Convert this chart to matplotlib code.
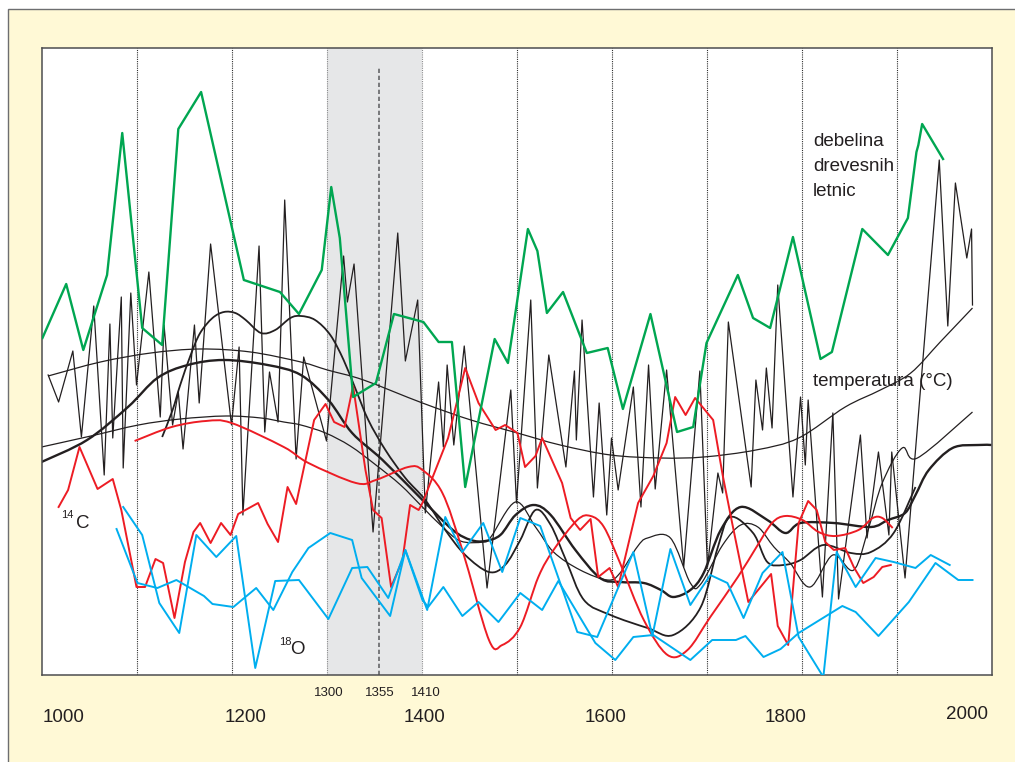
import numpy as np
import matplotlib
matplotlib.use("Agg")
import matplotlib.pyplot as plt
from matplotlib.path import Path
from matplotlib.patches import PathPatch, Rectangle

plt.rcParams['font.family'] = ['Liberation Sans', 'DejaVu Sans']

# ---------------------------------------------------------------- data
# tree-ring width (green)
ring_years = [1001, 1026, 1044, 1069, 1085, 1106, 1127, 1144, 1168, 1213, 1251, 1271,
              1295, 1305, 1314, 1328, 1352, 1371, 1402, 1418, 1432, 1446, 1477, 1491,
              1512, 1522, 1532, 1549, 1574, 1596, 1612, 1641, 1669, 1686, 1700, 1733,
              1749, 1767, 1791, 1820, 1832, 1864, 1891, 1912, 1921, 1923, 1927, 1949]
ring_vals = [337, 391, 325, 400, 542, 347, 330, 546, 583, 395, 383, 361,
             405, 488, 437, 278, 292, 361, 353, 333, 333, 188, 336, 312,
             446, 424, 362, 383, 322, 327, 266, 361, 243, 248, 332, 400,
             357, 347, 438, 316, 323, 446, 420, 457, 523, 530, 551, 516]

# temperature (thin black zig-zag)
temp_years = [1007, 1018, 1033, 1042, 1055, 1066, 1072, 1075, 1084, 1086, 1094, 1100,
              1113, 1125, 1129, 1138, 1144, 1149, 1161, 1166, 1178, 1200, 1208, 1212,
              1229, 1235, 1240, 1249, 1256, 1268, 1276, 1300, 1318, 1322, 1329, 1349,
              1375, 1383, 1396, 1404, 1418, 1423, 1427, 1434, 1445, 1469, 1494, 1500,
              1515, 1522, 1534, 1552, 1561, 1563, 1569, 1581, 1587, 1595, 1600, 1607,
              1623, 1631, 1639, 1646, 1658, 1676, 1693, 1701, 1712, 1717, 1723, 1747,
              1752, 1759, 1763, 1769, 1775, 1791, 1799, 1804, 1807, 1822, 1833, 1839,
              1862, 1869, 1881, 1892, 1895, 1909, 1945, 1954, 1962, 1974, 1979, 1980]
temp_vals = [300, 273, 324, 238, 369, 200, 351, 237, 378, 207, 382, 290,
             403, 258, 350, 250, 283, 226, 350, 272, 431, 250, 328, 160,
             429, 243, 303, 253, 475, 216, 318, 234, 419, 373, 411, 143,
             442, 314, 375, 162, 293, 228, 310, 230, 329, 87, 285, 172,
             375, 187, 320, 208, 304, 235, 355, 178, 272, 160, 237, 185,
             288, 168, 310, 186, 305, 108, 304, 108, 202, 182, 353, 188,
             295, 245, 307, 247, 390, 178, 278, 210, 275, 78, 262, 76,
             240, 137, 223, 140, 223, 97, 515, 349, 492, 417, 446, 370]

# long-term temperature trend (thin black arc)
trend_years = [1007, 1062, 1115, 1167, 1220, 1273, 1301, 1339, 1401, 1452, 1501,
               1546, 1599, 1652, 1697, 1752, 1797, 1846, 1883, 1915, 1946, 1980]
trend_vals = [299, 313, 322, 326, 323, 313, 305, 295, 272, 255, 242,
              230, 220, 217, 218, 225, 237, 268, 285, 302, 333, 367]

# smoothed curves (black)
smooth_a_years = [1000, 1048, 1091, 1122, 1154, 1192, 1238, 1273, 1302, 1327, 1359,
                  1401, 1433, 1452, 1467, 1483, 1499, 1518, 1536, 1562, 1588, 1609,
                  1634, 1652, 1665, 1683, 1697, 1715, 1736, 1764, 1783, 1799, 1834,
                  1873, 1891, 1909, 1920, 1934, 1959, 1986, 2000]
smooth_a_vals = [213, 235, 268, 297, 310, 315, 310, 300, 275, 242, 215,
                 175, 145, 135, 134, 140, 160, 170, 160, 125, 97, 93,
                 92, 85, 78, 85, 102, 145, 168, 155, 142, 152, 152,
                 148, 155, 162, 180, 205, 227, 230, 230]

smooth_b_years = [1127, 1138, 1146, 1157, 1167, 1180, 1192, 1204, 1215, 1231, 1246,
                  1262, 1273, 1288, 1304, 1318, 1331, 1344, 1362, 1383, 1404, 1425,
                  1446, 1471, 1488, 1504, 1520, 1536, 1552, 1571, 1599, 1638, 1665,
                  1694, 1712, 1725, 1749, 1764, 1781, 1799, 1823, 1852, 1873, 1897, 1920]
smooth_b_vals = [238, 265, 290, 320, 342, 357, 363, 362, 355, 342, 345,
                 357, 359, 355, 340, 315, 285, 255, 225, 197, 175, 145,
                 120, 103, 110, 135, 165, 150, 115, 75, 60, 47, 40,
                 68, 128, 158, 142, 113, 110, 115, 130, 122, 123, 142, 188]

smooth_c_years = [1000, 1052, 1102, 1146, 1194, 1231, 1255, 1273, 1299, 1325, 1352,
                  1378, 1401, 1420, 1441, 1465, 1473, 1499, 1520, 1539, 1567, 1596,
                  1609, 1627, 1638, 1662, 1683, 1694, 1717, 1736, 1754, 1771, 1788,
                  1809, 1833, 1855, 1871, 1885, 1906, 1922, 1980]
smooth_c_vals = [228, 239, 250, 256, 259, 257, 253, 250, 242, 229, 210,
                 190, 168, 150, 134, 133, 138, 173, 148, 123, 105, 95,
                 102, 128, 137, 137, 92, 91, 130, 150, 148, 128, 112,
                 88, 120, 105, 148, 192, 227, 217, 263]

# radiocarbon 14C (red)
c14_years = [1018, 1028, 1040, 1059, 1075, 1084, 1100, 1109, 1120, 1128, 1140, 1151,
             1160, 1167, 1178, 1189, 1199, 1207, 1228, 1238, 1249, 1259, 1268, 1287,
             1299, 1308, 1319, 1328, 1341, 1349, 1358, 1368, 1380, 1388, 1397, 1401,
             1428, 1446, 1460, 1478, 1488, 1501, 1509, 1520, 1527, 1548, 1557, 1567,
             1578, 1586, 1598, 1607, 1628, 1644, 1658, 1667, 1678, 1688, 1707, 1717,
             1727, 1744, 1768, 1775, 1786, 1797, 1807, 1816, 1825, 1834, 1846, 1855,
             1865, 1876, 1885, 1894]
c14_vals = [168, 185, 228, 186, 196, 165, 88, 88, 116, 112, 57, 113,
            143, 152, 132, 152, 140, 161, 172, 151, 133, 188, 171, 255,
            271, 253, 248, 289, 205, 165, 157, 88, 115, 170, 165, 172,
            237, 307, 272, 245, 250, 242, 208, 219, 237, 192, 157, 145,
            156, 98, 107, 88, 172, 199, 232, 278, 260, 277, 255, 200,
            152, 73, 101, 49, 30, 152, 174, 165, 133, 125, 127, 108,
            92, 98, 108, 110]

c14_smooth_years = [1098, 1137, 1173, 1200, 1255, 1281, 1331, 1352, 1386, 1401, 1422,
                    1443, 1471, 1485, 1504, 1523, 1539, 1564, 1578, 1592, 1609, 1634,
                    1659, 1680, 1704, 1733, 1752, 1769, 1783, 1801, 1818, 1836, 1860,
                    1875, 1885, 1896]
c14_smooth_vals = [234, 248, 254, 252, 228, 212, 192, 195, 208, 205, 182,
                   125, 35, 30, 48, 98, 125, 155, 159, 148, 112, 55,
                   20, 25, 58, 98, 127, 152, 159, 155, 143, 139, 145,
                   157, 157, 147]

# oxygen isotope 18O, two records (blue)
o18a_years = [1086, 1106, 1124, 1145, 1163, 1184, 1205, 1225, 1246, 1271, 1302, 1327,
              1343, 1365, 1383, 1406, 1425, 1443, 1465, 1485, 1504, 1525, 1564, 1585,
              1623, 1643, 1662, 1683, 1704, 1722, 1739, 1759, 1780, 1797, 1823, 1837,
              1857, 1878, 1897, 1920, 1936, 1956]
o18a_vals = [168, 140, 72, 42, 140, 118, 139, 7, 94, 95, 56, 107,
             108, 77, 125, 65, 158, 123, 152, 103, 157, 149, 43, 38,
             123, 39, 126, 70, 100, 92, 57, 102, 123, 38, -2, 123,
             88, 117, 113, 107, 120, 110]

o18b_years = [1079, 1101, 1122, 1142, 1171, 1180, 1202, 1226, 1244, 1264, 1281, 1304,
              1327, 1337, 1367, 1383, 1401, 1407, 1423, 1443, 1460, 1481, 1504, 1527,
              1544, 1583, 1604, 1623, 1644, 1683, 1706, 1731, 1741, 1760, 1778, 1797,
              1843, 1857, 1881, 1913, 1941, 1965, 1980]
o18b_vals = [146, 92, 87, 95, 79, 71, 68, 87, 65, 103, 127, 142,
             135, 97, 59, 125, 75, 68, 88, 59, 73, 53, 82, 65,
             94, 32, 15, 38, 40, 15, 35, 35, 39, 18, 26, 42,
             69, 63, 39, 73, 112, 95, 95]

century_lines = [1100, 1200, 1300, 1400, 1500, 1600, 1700, 1800, 1900]
year_labels = ['1000', '1200', '1400', '1600', '1800', '2000']
period_labels = ['1300', '1355', '1410']

# ---------------------------------------------------------------- style
GREEN = '#00a651'
RED = '#ed1c24'
BLUE = '#00aeef'
BLACK = '#231f20'
CREAM = '#fff9d6'
SHADE = '#e6e7e8'


def smooth_path(xs, ys):
    """Catmull-Rom spline through the given points, as cubic Bezier segments."""
    p = np.column_stack([xs, ys]).astype(float)
    n = len(p)
    verts = [p[0]]
    codes = [Path.MOVETO]
    for i in range(n - 1):
        p0 = p[i - 1] if i > 0 else p[i]
        p1 = p[i]
        p2 = p[i + 1]
        p3 = p[i + 2] if i + 2 < n else p[i + 1]
        verts += [p1 + (p2 - p0) / 6.0, p2 - (p3 - p1) / 6.0, p2]
        codes += [Path.CURVE4] * 3
    return Path(verts, codes)


def add_smooth(ax, xs, ys, color, lw, z):
    ax.add_patch(PathPatch(smooth_path(xs, ys), fill=False, edgecolor=color,
                           linewidth=lw, zorder=z, capstyle='butt'))


W, H = 1015, 762
fig = plt.figure(figsize=(W / 100, H / 100), dpi=100)
fig.patch.set_facecolor('white')

# cream panel behind the chart
fig.add_artist(Rectangle((8 / W, -0.05), 1.1, 1.05 - 9 / H, transform=fig.transFigure,
                         facecolor=CREAM, edgecolor='#6d6e70', linewidth=1.0,
                         zorder=-5))

ax = fig.add_axes([41.5 / W, (H - 675) / H, 950 / W, 627 / H])
ax.set_zorder(2)
ax.set_xlim(1000, 2000)
ax.set_ylim(0, 627)
ax.set_facecolor('white')
for s in ax.spines.values():
    s.set_color('#4d4d4f')
    s.set_linewidth(1.1)
ax.set_xticks([])
ax.set_yticks([])

# Black Death period
ax.axvspan(1300, 1400, color=SHADE, zorder=0.5, linewidth=0)
for yr in century_lines:
    col = '#8a8a8c' if yr in (1300, 1400) else '#303030'
    ax.axvline(yr, color=col, linewidth=0.8, linestyle=(0, (1, 1)), zorder=0.8)
ax.plot([1355, 1355], [0, 608], color='#77787b', linewidth=1.4,
        linestyle=(0, (2.2, 1.4)), zorder=0.9)

# series
ax.plot(temp_years, temp_vals, color=BLACK, linewidth=0.9, zorder=2)
add_smooth(ax, trend_years, trend_vals, BLACK, 0.9, 2.1)
add_smooth(ax, smooth_c_years, smooth_c_vals, BLACK, 0.9, 2.2)
add_smooth(ax, smooth_b_years, smooth_b_vals, BLACK, 1.3, 2.3)
add_smooth(ax, smooth_a_years, smooth_a_vals, BLACK, 1.7, 2.4)

ax.plot(c14_years, c14_vals, color=RED, linewidth=1.4, zorder=3)
add_smooth(ax, c14_smooth_years, c14_smooth_vals, RED, 1.4, 3.1)

ax.plot(o18a_years, o18a_vals, color=BLUE, linewidth=1.4, zorder=3.5)
ax.plot(o18b_years, o18b_vals, color=BLUE, linewidth=1.4, zorder=3.5)

ax.plot(ring_years, ring_vals, color=GREEN, linewidth=1.7, zorder=4)

# labels inside the plot
lab = dict(color=BLACK, fontsize=13.5, zorder=6)
for k, line in enumerate(['debelina', 'drevesnih', 'letnic']):
    ax.text(1812, 529 - 25 * k, line, va='baseline', ha='left', **lab)
ax.text(1812, 289, 'temperatura (°C)', va='baseline', ha='left', **lab)

ax.text(1021, 157, '14', va='baseline', ha='left', color=BLACK, fontsize=8, zorder=6)
ax.text(1036, 147, 'C', va='baseline', ha='left', **lab)
ax.text(1250, 30, '18', va='baseline', ha='left', color=BLACK, fontsize=8, zorder=6)
ax.text(1262, 21, 'O', va='baseline', ha='left', **lab)

# axis labels drawn below the frame
year_label_x = [1023, 1215, 1403, 1594, 1783, 1974]
year_label_y = [-47, -47, -47, -47, -47, -44]
for x, y, t in zip(year_label_x, year_label_y, year_labels):
    ax.text(x, y, t, ha='center', va='baseline', fontsize=13.5, color=BLACK,
            clip_on=False)
for x, t in zip([1302, 1356, 1405], period_labels):
    ax.text(x, -21, t, ha='center', va='baseline', fontsize=9.5, color=BLACK,
            clip_on=False)

fig.savefig('out.png', dpi=100, facecolor='white')
